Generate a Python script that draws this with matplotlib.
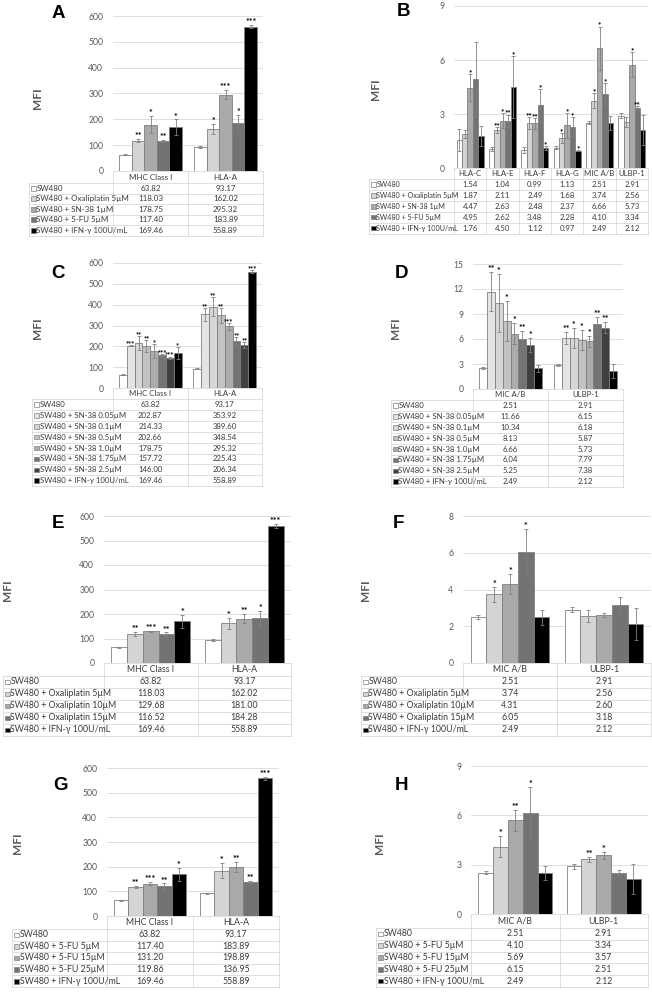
import matplotlib.pyplot as plt
import numpy as np
from matplotlib.patches import Rectangle

plt.rcParams['font.family'] = ['Lato', 'DejaVu Sans']

W, H = 652, 992

c5 = ['#ffffff', '#d4d4d4', '#a9a9a9', '#737373', '#000000']
c8 = ['#ffffff', '#e4e4e4', '#d6d6d6', '#c2c2c2', '#acacac', '#737373', '#404040', '#000000']

# ---- data (error bars estimated)
grp_mhc = ['MHC Class I', 'HLA-A']
grp_nk = ['MIC A/B', 'ULBP-1']
grp_B = ['HLA-C', 'HLA-E', 'HLA-F', 'HLA-G', 'MIC A/B', 'ULBP-1']

lab_drugs = ['SW480', 'SW480 + Oxaliplatin 5µM', 'SW480 + SN-38 1µM',
             'SW480 + 5-FU 5µM', 'SW480 + IFN-γ 100U/mL']
lab_sn38 = ['SW480', 'SW480 + SN-38 0.05µM', 'SW480 + SN-38 0.1µM',
            'SW480 + SN-38 0.5µM', 'SW480 + SN-38 1.0µM', 'SW480 + SN-38 1.75µM',
            'SW480 + SN-38 2.5µM', 'SW480 + IFN-γ 100U/mL']
lab_oxa = ['SW480', 'SW480 + Oxaliplatin 5µM', 'SW480 + Oxaliplatin 10µM',
           'SW480 + Oxaliplatin 15µM', 'SW480 + IFN-γ 100U/mL']
lab_5fu = ['SW480', 'SW480 + 5-FU 5µM', 'SW480 + 5-FU 15µM',
           'SW480 + 5-FU 25µM', 'SW480 + IFN-γ 100U/mL']

val_A = [[63.82, 93.17], [118.03, 162.02], [178.75, 295.32], [117.40, 183.89], [169.46, 558.89]]
err_A = [[2, 3], [7, 20], [33, 18], [4, 32], [30, 7]]
sig_A = [['', ''], ['**', '*'], ['*', '***'], ['**', '*'], ['*', '***']]

val_B = [[1.54, 1.04, 0.99, 1.13, 2.51, 2.91],
         [1.87, 2.11, 2.49, 1.68, 3.74, 2.56],
         [4.47, 2.63, 2.48, 2.37, 6.66, 5.73],
         [4.95, 2.62, 3.48, 2.28, 4.10, 3.34],
         [1.76, 4.50, 1.12, 0.97, 2.49, 2.12]]
err_B = [[0.62, 0.12, 0.15, 0.10, 0.08, 0.15],
         [0.22, 0.15, 0.35, 0.28, 0.40, 0.30],
         [0.75, 0.40, 0.30, 0.70, 1.20, 0.70],
         [2.05, 0.35, 0.90, 0.55, 0.60, 0.12],
         [0.55, 1.70, 0.12, 0.05, 0.40, 0.85]]
sig_B = [['', '', '', '', '', ''],
         ['', '**', '**', '*', '*', ''],
         ['*', '*', '**', '*', '*', '*'],
         ['', '**', '*', '*', '*', '**'],
         ['', '*', '*', '*', '', '']]

val_C = [[63.82, 93.17], [202.87, 353.92], [214.33, 389.60], [202.66, 348.54],
         [178.75, 295.32], [157.72, 225.43], [146.00, 206.34], [169.46, 558.89]]
err_C = [[2, 3], [3, 30], [34, 45], [28, 35], [33, 18], [6, 18], [5, 15], [28, 6]]
sig_C = [['', ''], ['***', '**'], ['**', '**'], ['**', '**'], ['*', '***'],
         ['***', '**'], ['***', '**'], ['*', '***']]

val_D = [[2.51, 2.91], [11.66, 6.15], [10.34, 6.18], [8.13, 5.87],
         [6.66, 5.73], [6.04, 7.79], [5.25, 7.38], [2.49, 2.12]]
err_D = [[0.1, 0.1], [2.35, 0.7], [3.5, 1.2], [2.4, 1.2], [1.25, 0.65],
         [0.95, 0.9], [0.85, 0.7], [0.4, 0.85]]
sig_D = [['', ''], ['**', '**'], ['*', '*'], ['*', '*'], ['*', '*'],
         ['**', '**'], ['*', '**'], ['', '']]

val_E = [[63.82, 93.17], [118.03, 162.02], [129.68, 181.00], [116.52, 184.28], [169.46, 558.89]]
err_E = [[2, 3], [8, 22], [2, 18], [8, 28], [27, 7]]
sig_E = [['', ''], ['**', '*'], ['***', '**'], ['**', '*'], ['*', '***']]

val_F = [[2.51, 2.91], [3.74, 2.56], [4.31, 2.60], [6.05, 3.18], [2.49, 2.12]]
err_F = [[0.1, 0.15], [0.4, 0.35], [0.55, 0.12], [1.25, 0.4], [0.4, 0.85]]
sig_F = [['', ''], ['*', ''], ['*', ''], ['*', ''], ['', '']]

val_G = [[63.82, 93.17], [117.40, 183.89], [131.20, 198.89], [119.86, 136.95], [169.46, 558.89]]
err_G = [[3, 2], [3, 30], [5, 20], [12, 4], [27, 6]]
sig_G = [['', ''], ['**', '*'], ['***', '**'], ['**', '**'], ['*', '***']]

val_H = [[2.51, 2.91], [4.10, 3.34], [5.69, 3.57], [6.15, 2.51], [2.49, 2.12]]
err_H = [[0.1, 0.15], [0.65, 0.15], [0.65, 0.2], [1.6, 0.15], [0.45, 0.9]]
sig_H = [['', ''], ['*', '**'], ['**', '*'], ['*', ''], ['', '']]

fig = plt.figure(figsize=(W / 100, H / 100), dpi=100)
ov = fig.add_axes([0, 0, 1, 1])
ov.set_xlim(0, W)
ov.set_ylim(H, 0)
ov.axis('off')

GRID = '#d9d9d9'
TXT = '#3a3a3a'


def panel(letter, groups, labels, vals, errs, sigs, colors, ymax, ystep,
          box, tab, lpos, mpos, fs, sfs, lfs):
    x0, x1, yt, y0 = box
    left, hh, rh = tab
    ax = fig.add_axes([x0 / W, 1 - y0 / H, (x1 - x0) / W, (y0 - yt) / H])
    n = len(labels)
    g = len(groups)
    width = 0.84 / n
    xs = np.arange(g)
    for i in range(n):
        pos = xs - 0.42 + width * (i + 0.5)
        ax.bar(pos, vals[i], width, color=colors[i], edgecolor='#808080',
               linewidth=0.6, zorder=3)
        ax.errorbar(pos, vals[i], yerr=errs[i], fmt='none', ecolor='#808080',
                    elinewidth=0.6, capsize=1.2, capthick=0.6, zorder=4)
        for j in range(g):
            if sigs[i][j]:
                ax.annotate(sigs[i][j], (pos[j], vals[i][j] + errs[i][j]),
                            xytext=(0, -1.5), textcoords='offset points',
                            ha='center', va='bottom', fontsize=sfs,
                            fontweight='bold', zorder=5)
    ax.set_xlim(-0.5, g - 0.5)
    ax.set_ylim(0, ymax)
    ax.set_yticks(np.arange(0, ymax + ystep / 2, ystep))
    ax.yaxis.grid(True, color=GRID, lw=0.6)
    ax.set_axisbelow(True)
    ax.set_xticks([])
    for s in ax.spines.values():
        s.set_visible(False)
    ax.patch.set_alpha(0)
    ax.tick_params(axis='y', length=0, pad=7, labelsize=6.2, labelcolor='#595959')

    # data table under the bars
    bottom = y0 + hh + rh * n
    colw = (x1 - x0) / g
    ov.plot([x0, x1], [y0, y0], color=GRID, lw=0.6)
    for r in range(n + 1):
        yy = y0 + hh + r * rh
        ov.plot([left, x1], [yy, yy], color=GRID, lw=0.6)
    ov.plot([left, left], [y0 + hh, bottom], color=GRID, lw=0.6)
    for j in range(g + 1):
        xv = x0 + j * colw
        ov.plot([xv, xv], [y0, bottom], color=GRID, lw=0.6)
    for j, name in enumerate(groups):
        ov.text(x0 + (j + 0.5) * colw, y0 + hh / 2, name, ha='center',
                va='center', fontsize=fs, color=TXT)
    for i, lab in enumerate(labels):
        yc = y0 + hh + (i + 0.5) * rh
        ov.add_patch(Rectangle((left + 2, yc - 2.3), 4.6, 4.6, facecolor=colors[i],
                               edgecolor='#808080', lw=0.5))
        ov.text(left + 7.5, yc, lab, ha='left', va='center', fontsize=lfs, color=TXT)
        for j in range(g):
            ov.text(x0 + (j + 0.5) * colw, yc, f'{vals[i][j]:.2f}', ha='center',
                    va='center', fontsize=fs, color=TXT)

    ov.text(lpos[0], lpos[1], letter, ha='center', va='center', fontsize=13.5,
            fontweight='bold', family=['Liberation Sans', 'DejaVu Sans'])
    ov.text(mpos[0], mpos[1], 'MFI', ha='center', va='center', rotation=90,
            fontsize=8.5, fontweight='bold', color='#595959')


panel('A', grp_mhc, lab_drugs, val_A, err_A, sig_A, c5, 600, 100,
      (113, 263, 16, 171), (29, 12, 10.5), (58, 13), (37, 98), 5.8, 6.2, 5.8)
panel('B', grp_B, lab_drugs, val_B, err_B, sig_B, c5, 9, 3,
      (454, 648, 6, 168), (369, 11, 10.9), (403, 12), (376, 89), 5.6, 5.8, 5.1)
panel('C', grp_mhc, lab_sn38, val_C, err_C, sig_C, c8, 600, 100,
      (113, 262, 263, 388), (32, 11, 10.9), (58, 273), (37, 328), 5.6, 5.3, 5.6)
panel('D', grp_nk, lab_sn38, val_D, err_D, sig_D, c8, 15, 3,
      (473, 623, 264, 389), (391, 11, 10.9), (401, 273), (396, 328), 5.6, 6.2, 5.6)
panel('E', grp_mhc, lab_oxa, val_E, err_E, sig_E, c5, 600, 100,
      (104, 291, 516, 663), (3, 13, 12), (58, 523), (7, 590), 6.3, 6.6, 6.3)
panel('F', grp_nk, lab_oxa, val_F, err_F, sig_F, c5, 8, 2,
      (463, 651, 516, 663), (361, 13, 12), (398, 523), (365, 590), 6.3, 6.6, 6.3)
panel('G', grp_mhc, lab_5fu, val_G, err_G, sig_G, c5, 600, 100,
      (107, 279, 768, 916), (12, 13, 11.6), (60, 785), (17, 843), 6.3, 6.6, 6.3)
panel('H', grp_nk, lab_5fu, val_H, err_H, sig_H, c5, 9, 3,
      (471, 648, 766, 914), (376, 14, 11.8), (401, 785), (379, 843), 6.3, 6.6, 6.3)

fig.savefig('out.png', dpi=100)
